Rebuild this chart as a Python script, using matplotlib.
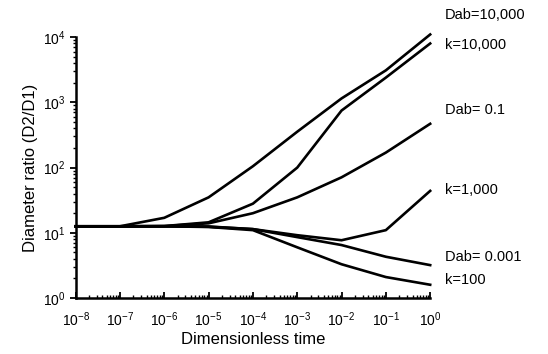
import matplotlib
matplotlib.use('Agg')
import matplotlib.pyplot as plt
from matplotlib.ticker import LogLocator

plt.rcParams['font.family'] = ['Liberation Sans', 'DejaVu Sans']
plt.rcParams['mathtext.fontset'] = 'custom'
plt.rcParams['mathtext.rm'] = 'Liberation Sans'
plt.rcParams['mathtext.it'] = 'Liberation Sans'

# dimensionless time at each decade
time = [1e-8, 1e-7, 1e-6, 1e-5, 1e-4, 1e-3, 1e-2, 1e-1, 1e0]

# diameter ratio (D2/D1)
dab_10000 = [12.6, 12.6, 17, 35, 105, 355, 1150, 3100, 11000]
k_10000 = [12.6, 12.6, 12.7, 14.5, 28, 100, 750, 2400, 8000]
dab_0_1 = [12.6, 12.6, 12.7, 14, 20, 35, 71, 170, 470]
k_1000 = [12.6, 12.6, 12.6, 12.5, 11.4, 9.2, 7.7, 11, 44]
dab_0_001 = [12.6, 12.6, 12.6, 12.4, 11.4, 8.6, 6.5, 4.3, 3.2]
k_100 = [12.6, 12.6, 12.6, 12.3, 11, 6.0, 3.3, 2.1, 1.6]

series = [dab_10000, k_10000, dab_0_1, k_1000, dab_0_001, k_100]
labels = ['Dab=10,000', 'k=10,000', 'Dab= 0.1', 'k=1,000', 'Dab= 0.001', 'k=100']
label_y = [15, 45, 110, 190, 257, 280]  # pixel rows of the right-hand labels

fig = plt.figure(figsize=(5.48, 3.54), dpi=100)
ax = fig.add_axes([0.138, 0.158, 0.647, 0.737])

for s in series:
    ax.plot(time, s, color='black', lw=1.9, clip_on=False, solid_joinstyle='round')

ax.set_xscale('log')
ax.set_yscale('log')
ax.set_xlim(1e-8, 1e0)
ax.set_ylim(1e0, 1e4)
ax.xaxis.set_major_locator(LogLocator(base=10, numticks=20))
ax.xaxis.set_minor_locator(LogLocator(base=10, subs=range(2, 10), numticks=20))

ax.spines['top'].set_visible(False)
ax.spines['right'].set_visible(False)
ax.spines['left'].set_linewidth(1.8)
ax.spines['bottom'].set_linewidth(1.8)
ax.tick_params(axis='both', which='major', labelsize=10, length=4, width=1.3, color='black')
ax.tick_params(axis='both', which='minor', length=2.5, width=1)
ax.tick_params(axis='x', which='both', direction='in', pad=9)
ax.tick_params(axis='y', which='both', direction='out')

ax.set_xlabel('Dimensionless time', fontsize=12, labelpad=2)
ax.set_ylabel('Diameter ratio (D2/D1)', fontsize=12, labelpad=3)

for lab, py in zip(labels, label_y):
    fig.text(445 / 548, 1 - py / 354, lab, fontsize=10.5, va='center', ha='left')

fig.savefig('out.png', dpi=100)
